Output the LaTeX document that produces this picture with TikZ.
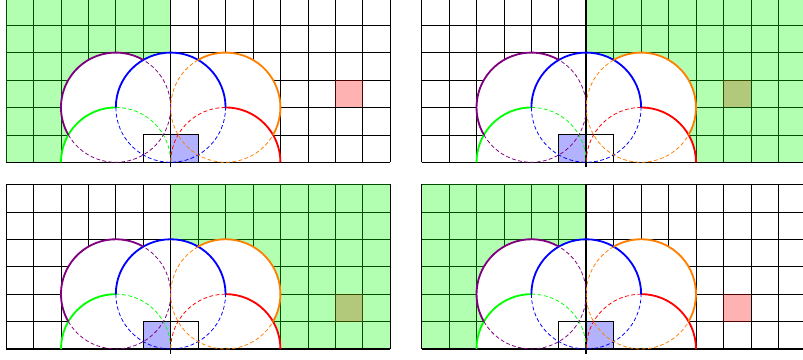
\documentclass[tikz,border=0pt]{standalone}
\definecolor{mypurple}{RGB}{128,0,128}
\definecolor{myorange}{RGB}{255,128,0}
\tikzset{
  gridline/.style={line width=0.7pt, black},
  axisline/.style={line width=1.6pt, black},
  outline/.style={line width=1.9pt},
  hidden/.style={line width=0.8pt, dash pattern=on 4pt off 2.5pt},
  boxline/.style={line width=0.8pt, black},
  greenzone/.style={fill=green, fill opacity=0.3},
  bluesq/.style={fill=blue, fill opacity=0.3},
  redsq/.style={fill=red, fill opacity=0.3},
}
% #1,#2 panel shift; #3 outer x of green zone; #4 blue square x; #5,#6 red square corner
\newcommand{\drawpanel}[6]{%
\begin{scope}[shift={(#1,#2)}]
  \draw[gridline] (-6,0) grid (8,6);
  \fill[redsq] (#5,#6) rectangle ++(1,1);
  \fill[greenzone] (#3,0) rectangle (0,6);
  % white union of the circles
  \fill[white] (-2,2) circle (2);
  \fill[white] (0,2) circle (2);
  \fill[white] (2,2) circle (2);
  \fill[white] (-4,0) arc (180:0:2) -- cycle;
  \fill[white] (0,0) arc (180:0:2) -- cycle;
  \fill[bluesq] (#4,0) rectangle ++(1,1);
  \draw[boxline] (-1,0) rectangle (1,1);
  \draw[axisline] (-6,0) -- (8,0);
  \draw[axisline] (0,-0.18) -- (0,6);
  % green
  \draw[outline, green] (-4,0) arc (180:90:2);
  \draw[hidden, green] (-2,2) arc (90:0:2);
  % red
  \draw[outline, red] (4,0) arc (0:90:2);
  \draw[hidden, red] (2,2) arc (90:180:2);
  % blue
  \draw[outline, blue] (2,2) arc (0:180:2);
  \draw[hidden, blue] (-2,2) arc (180:360:2);
  % purple
  \draw[outline, mypurple] ([shift={(60:2)}]-2,2) arc (60:210:2);
  \draw[hidden, mypurple] ([shift={(210:2)}]-2,2) arc (210:420:2);
  % orange
  \draw[outline, myorange] ([shift={(-30:2)}]2,2) arc (-30:120:2);
  \draw[hidden, myorange] ([shift={(120:2)}]2,2) arc (120:330:2);
\end{scope}}
\begin{document}
\begin{tikzpicture}[x=1cm,y=1cm]
  \useasboundingbox (-6.223,-7.207) rectangle (23.052,5.917);
  \clip (-6.223,-7.207) rectangle (23.052,5.917);
  \drawpanel{0}{0}{-6}{0}{6}{2}
  \drawpanel{15.15}{0}{8}{-1}{5}{2}
  \drawpanel{0}{-6.806}{8}{-1}{6}{1}
  \drawpanel{15.15}{-6.806}{-6}{0}{5}{1}
\end{tikzpicture}
\end{document}
